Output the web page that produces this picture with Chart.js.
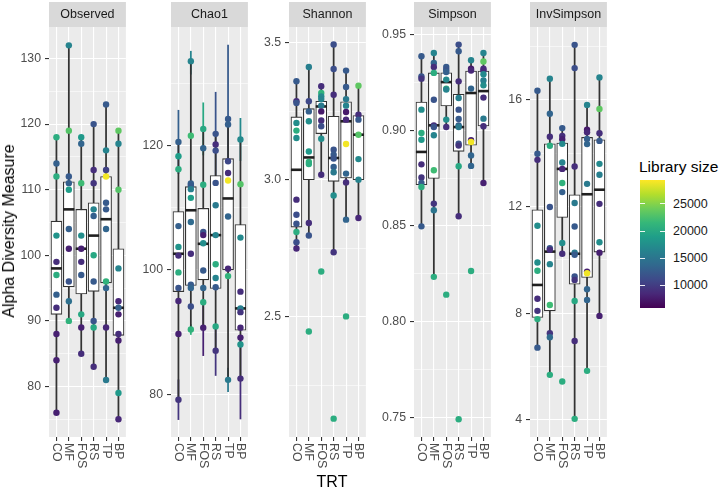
<!DOCTYPE html>
<html><head><meta charset="utf-8">
<script src="https://cdn.jsdelivr.net/npm/chart.js@4.4.1/dist/chart.umd.min.js"></script>
<style>
html,body{margin:0;padding:0;background:#fff;}
#wrap{position:relative;width:722px;height:489px;overflow:hidden;font-family:"Liberation Sans",Arial,Helvetica,sans-serif;}
#wrap canvas{position:absolute;top:0;}
.t{position:absolute;white-space:nowrap;line-height:1;}
</style></head><body><div id="wrap"></div>
<script>
// ---------------- data ----------------
const categories = ['CO','MF','FOS','RS','TP','BP'];
const measureNames = ['Observed','Chao1','Shannon','Simpson','InvSimpson'];
const libMin = 5900, libMax = 29400;
const legendTicks = [10000,15000,20000,25000];

// Observed
const observedValues = [
  [118,114,112,103,99,97,94,92,88,84,76],
  [132,119,112,111,110,104,101,96,93,90],
  [118,117,111,103,101,99,97,91,89,85],
  [120,113,111,107,106,100,96,90,89,83],
  [123,116,113,112,108,107,104,96,95,89,81],
  [119,117,110,98,93,92,91,88,87,79,75]
];
const observedLibrary = [
  [20500,13000,20500,18000,9000,20500,13000,9000,8000,8000,8000],
  [16500,23000,12500,13000,19000,13000,8000,12000,14500,21000],
  [18500,13500,22000,17500,8000,9000,12500,20000,8000,9000],
  [12000,9000,9500,16500,13000,20000,12500,12000,20000,9000],
  [12500,16500,10500,29000,12500,12500,13500,21000,13500,8500,15500],
  [23500,16500,23000,16500,8500,13000,8000,9000,8000,18500,8500]
];
// [lower whisker, Q1, median, Q3, upper whisker]
const observedBox = [
  [76,91,98,105.2,118],
  [90,95.2,107,111.2,132],
  [85,94.1,101,107,118],
  [83,94.5,103,108,120],
  [81,95.8,105.5,112,123],
  [75,87.8,92,101,119]
];
const observedTicks = [80,90,100,110,120,130];
const observedMinor = [75,85,95,105,115,125];
const observedRange = [72.3,134.8];

// Chao1
const chao1Values = [
  [120.6,118.3,116.2,107.05,103.7,102.3,99.6,97.1,95.0,89.7,79.1],
  [133.6,121.6,113.9,113.6,113.0,111.6,107.7,102.6,97.6,97.1,94.1,90.4],
  [122.7,119.6,113.7,106.1,105.6,104.3,99.9,97.1,94.8,90.7],
  [121.9,120.2,119.2,114.0,110.4,105.6,100.9,98.7,97.2,90.9,87.0],
  [124.3,123.4,117.5,115.6,114.4,108.6,100.2,99.0,82.3],
  [121.0,113.8,105.2,96.5,93.8,93.2,90.7,89.1,88.0,82.5]
];
const chao1Library = [
  [13000,19000,20500,13000,18000,9000,20500,12000,8500,8000,9500],
  [16500,22000,13000,12500,16000,19000,14000,9000,12500,13500,11500,21000],
  [20000,13500,20500,12000,8000,17500,12500,13500,20500,8000],
  [12000,9000,11500,12000,15500,16500,20500,16500,12500,20000,9500],
  [12500,13000,11000,9000,29000,13500,8500,21000,15500],
  [17000,23000,17000,9000,16000,9500,8500,8000,18000,9000]
];
const chao1Box = [
  [79.1,96.5,102.6,109.4,120.6],
  [90.4,97.5,109.6,113.4,133.6],
  [90.7,98.4,104.2,109.9,122.7],
  [87.0,97.0,105.6,115.2,121.9],
  [82.3,100.0,111.5,117.9,124.3],
  [82.5,90.3,93.8,107.3,121.0]
];
// standard-error bars: [group index, low, high, library size]
const chao1ErrorBars = [
  [0,115.5,125.7,13000],[0,75.9,82.3,9500],
  [1,131.5,135.2,16500],[1,89.6,91.2,21000],
  [2,118.5,126.9,20000],[2,86.2,95.2,8000],
  [3,115.2,128.6,12000],[3,83.0,91.0,9500],
  [4,112.4,136.2,12500],[4,80.4,84.2,15500],
  [5,117.6,124.4,17000],[5,76.0,89.0,9000]
];
const chao1Ticks = [80,100,120];
const chao1Minor = [90,110,130];
const chao1Range = [73.1,139.1];

// Shannon
const shannonValues = [
  [3.359,3.286,3.280,3.207,3.179,3.152,2.927,2.872,2.839,2.809,2.772,2.749],
  [3.411,3.286,3.249,3.213,3.103,3.065,3.057,2.842,2.796,2.446],
  [3.341,3.316,3.304,3.294,3.270,3.249,3.216,3.195,3.149,3.018,2.665],
  [3.493,3.404,3.310,3.109,3.091,3.077,3.046,3.027,2.942,2.735,2.128],
  [3.398,3.338,3.294,3.270,3.247,3.219,3.130,3.022,2.990,2.854,2.501],
  [3.343,3.237,3.219,3.164,3.075,3.000,2.860]
];
const shannonLibrary = [
  [12500,9000,12000,17500,20500,17500,9000,11500,12000,20500,11500,8500],
  [16000,11000,13000,17500,18500,21000,20500,9000,12000,20500],
  [9000,21000,17000,16500,15500,7500,9000,11500,17500,9000,20500],
  [11500,11500,9000,12000,12500,12000,13000,15500,17500,9500,20500],
  [12500,12500,15500,16500,7500,8500,29000,13500,9000,13500,20500],
  [23500,9000,12500,23000,17000,16500,8500]
];
const shannonBox = [
  [2.749,2.827,3.036,3.229,3.359],
  [2.796,3.000,3.081,3.259,3.411],
  [3.018,3.168,3.267,3.286,3.341],
  [2.735,2.994,3.079,3.231,3.493],
  [2.854,3.006,3.213,3.284,3.398],
  [2.860,3.000,3.164,3.234,3.343]
];
const shannonTicks = [2.5,3.0,3.5];
const shannonMinor = [2.25,2.75,3.25];
const shannonRange = [2.061,3.557];

// Simpson
const simpsonValues = [
  [0.9387,0.9282,0.9270,0.9108,0.8986,0.8951,0.8822,0.8753,0.8725,0.8704,0.8498],
  [0.9404,0.9352,0.9331,0.9300,0.9160,0.9026,0.9017,0.8974,0.8791,0.8617,0.8582,0.8234],
  [0.9331,0.9317,0.9305,0.9265,0.9218,0.9213,0.9056,0.9017,0.8141],
  [0.9448,0.9413,0.9256,0.9169,0.9108,0.9059,0.9026,0.9017,0.8930,0.8920,0.8812,0.8551,0.7490],
  [0.9366,0.9322,0.9313,0.9218,0.8948,0.8939,0.8869,0.8814,0.8265],
  [0.9404,0.9360,0.9322,0.9313,0.9293,0.9261,0.9235,0.9171,0.9061,0.9021,0.8725]
];
const simpsonLibrary = [
  [12500,12000,9500,17500,20500,18500,9000,9500,12500,20500,12500],
  [16500,13500,9000,20500,12000,9000,12000,16500,22000,9500,15000,20500],
  [12500,12000,13000,17000,21500,16500,17500,9000,20500],
  [11500,12500,9000,16000,12000,12500,13000,15500,12000,9500,20000,9000,20500],
  [16500,7500,8500,13500,8000,29000,13500,13500,20500],
  [16500,23500,9000,8500,17000,16000,17500,9000,15500,9000,8000]
];
const simpsonBox = [
  [0.8498,0.8716,0.8887,0.9148,0.9387],
  [0.8234,0.8748,0.9026,0.9300,0.9404],
  [0.9017,0.9127,0.9252,0.9301,0.9331],
  [0.8551,0.8890,0.9017,0.9188,0.9448],
  [0.8814,0.8922,0.9195,0.9310,0.9366],
  [0.8725,0.9023,0.9205,0.9310,0.9404]
];
const simpsonTicks = [0.75,0.80,0.85,0.90,0.95];
const simpsonMinor = [0.775,0.825,0.875,0.925];
const simpsonRange = [0.7397,0.954];

// InvSimpson
const invSimpsonValues = [
  [16.34,13.98,13.75,11.28,9.90,9.59,8.54,8.09,7.78,6.71],
  [16.79,15.48,14.62,14.28,11.98,10.44,10.38,9.84,8.31,7.25,7.10,5.69],
  [14.94,14.65,14.52,14.35,13.65,13.41,12.88,12.54,10.63,10.23,5.44],
  [18.06,17.19,13.50,12.13,11.25,10.27,10.19,9.38,9.25,8.46,6.96,4.04],
  [15.81,14.88,14.78,14.53,14.34,12.85,9.56,9.50,8.90,8.50,5.84],
  [16.84,15.66,14.75,14.46,13.60,13.19,12.10,10.66,10.27,7.90]
];
const invSimpsonLibrary = [
  [12500,12500,9000,17500,17500,20500,9000,9500,20500,12500],
  [16500,13500,9000,20500,12000,12500,9000,16500,22000,9500,14000,20500],
  [12500,9000,8000,17000,16500,8500,21000,13000,17500,9000,20500],
  [12000,11500,9000,15500,12500,15500,12500,12000,9500,20000,9000,20500],
  [16500,7500,8500,13000,13500,15500,8000,29000,13500,13500,20500],
  [16500,23500,9000,12500,17000,16000,9000,17500,8000,8000]
];
const invSimpsonBox = [
  [6.71,7.84,9.06,11.88,16.34],
  [5.69,8.09,10.31,14.35,16.79],
  [10.23,11.59,13.41,14.38,14.94],
  [4.04,9.09,10.23,12.44,18.06],
  [5.84,9.34,12.46,14.59,15.81],
  [7.90,10.29,12.63,14.50,16.84]
];
const invSimpsonTicks = [4,8,12,16];
const invSimpsonMinor = [6,10,14,18];
const invSimpsonRange = [3.36,18.73];

// ---------------- layout / style ----------------
const H = 489, PANEL_TOP = 27, PANEL_BOTTOM = 437, STRIP_TOP = 2, AXIS_W = 46, PANEL_W = 85;
const panelLefts = [49,171,289,414,530];
const FONT = '"Liberation Sans", Arial, Helvetica, sans-serif';

const VIRIDIS = ['#440154','#482878','#3E4A89','#31688E','#26828E','#1F9E89','#35B779','#6DCD59','#B4DE2C','#FDE725'];
function hexToRgb(h){ return [parseInt(h.slice(1,3),16),parseInt(h.slice(3,5),16),parseInt(h.slice(5,7),16)]; }
function viridis(t){
  t = Math.max(0, Math.min(1, t));
  const p = t*(VIRIDIS.length-1);
  const i = Math.min(Math.floor(p), VIRIDIS.length-2);
  const f = p - i;
  const a = hexToRgb(VIRIDIS[i]), b = hexToRgb(VIRIDIS[i+1]);
  return 'rgb(' + a.map((v,k)=>Math.round(v+(b[k]-v)*f)).join(',') + ')';
}
const libColor = v => viridis((v - libMin)/(libMax - libMin));

const panels = [
  {name:measureNames[0], values:observedValues, libs:observedLibrary, box:observedBox, ticks:observedTicks, minor:observedMinor, range:observedRange, dec:0},
  {name:measureNames[1], values:chao1Values, libs:chao1Library, box:chao1Box, ticks:chao1Ticks, minor:chao1Minor, range:chao1Range, dec:0, err:chao1ErrorBars},
  {name:measureNames[2], values:shannonValues, libs:shannonLibrary, box:shannonBox, ticks:shannonTicks, minor:shannonMinor, range:shannonRange, dec:1},
  {name:measureNames[3], values:simpsonValues, libs:simpsonLibrary, box:simpsonBox, ticks:simpsonTicks, minor:simpsonMinor, range:simpsonRange, dec:2},
  {name:measureNames[4], values:invSimpsonValues, libs:invSimpsonLibrary, box:invSimpsonBox, ticks:invSimpsonTicks, minor:invSimpsonMinor, range:invSimpsonRange, dec:0}
];

const panelDecor = {
  id: 'panelDecor',
  beforeDraw(chart, args, opts) {
    const {ctx, chartArea: a} = chart;
    ctx.save();
    ctx.fillStyle = '#EBEBEB';
    ctx.fillRect(a.left, a.top, a.right - a.left, a.bottom - a.top);
    ctx.fillStyle = '#D9D9D9';
    ctx.fillRect(a.left, STRIP_TOP, a.right - a.left, a.top - STRIP_TOP);
    ctx.fillStyle = '#1A1A1A';
    ctx.font = '12.5px ' + FONT;
    ctx.textAlign = 'center';
    ctx.textBaseline = 'middle';
    ctx.fillText(opts.title, (a.left + a.right)/2, (STRIP_TOP + a.top)/2 + 0.5);
    ctx.restore();
  },
  afterDraw(chart) {
    const {ctx, chartArea: a} = chart;
    const xs = chart.scales.x;
    ctx.save();
    ctx.fillStyle = '#4D4D4D';
    ctx.font = '12.3px ' + FONT;
    ctx.textAlign = 'left';
    ctx.textBaseline = 'middle';
    categories.forEach((c, i) => {
      const x = xs.getPixelForValue(i + 1);
      ctx.save();
      ctx.translate(x, a.bottom + 6);
      ctx.rotate(Math.PI/2);
      ctx.fillText(c, 0, 0);
      ctx.restore();
    });
    ctx.restore();
  }
};

const wrap = document.getElementById('wrap');

panels.forEach((p, pi) => {
  const left = panelLefts[pi];
  const cv = document.createElement('canvas');
  cv.width = AXIS_W + PANEL_W; cv.height = H;
  cv.style.left = (left - AXIS_W) + 'px';
  wrap.appendChild(cv);

  const pts = [], cols = [];
  p.values.forEach((arr, gi) => arr.forEach((v, k) => {
    pts.push({x: gi + 1, y: v});
    cols.push(libColor(p.libs[gi][k]));
  }));
  const majorSet = new Set(p.ticks);
  const allTicks = [...p.ticks, ...p.minor].sort((a, b) => a - b);

  const datasets = [
    {type:'scatter', data:pts, pointBackgroundColor:cols, pointBorderWidth:0, pointRadius:3.2, pointHoverRadius:3.2, order:0},
    {type:'scatter', data:p.box.map((b, gi) => ({x: gi + 1, y: b[2]})), pointStyle:'line', pointRadius:5.5, pointHoverRadius:5.5,
      pointBorderColor:'#1F1F1F', pointBackgroundColor:'#1F1F1F', pointBorderWidth:2.6, order:1},
    {type:'bar', data:p.box.map((b, gi) => ({x: gi + 1, y: [b[1], b[3]]})), backgroundColor:'#FFFFFF', borderColor:'#333333',
      borderWidth:1.1, borderSkipped:false, barThickness:11, grouped:false, order:2},
    {type:'bar', data:p.box.map((b, gi) => ({x: gi + 1, y: [b[0], b[4]]})), backgroundColor:'#333333', borderWidth:0,
      barThickness:1.1, grouped:false, order:3}
  ];
  if (p.err) {
    datasets.push({type:'bar', data:p.err.map(e => ({x: e[0] + 1, y: [e[1], e[2]]})), backgroundColor:p.err.map(e => libColor(e[3])),
      borderWidth:0, barThickness:1.1, grouped:false, order:4});
  }

  new Chart(cv, {
    type: 'scatter',
    data: {datasets},
    plugins: [panelDecor],
    options: {
      responsive: false, animation: false, devicePixelRatio: 1, events: [],
      layout: {padding: {top: PANEL_TOP, left: 0, right: 0, bottom: 0}},
      plugins: {legend: {display: false}, tooltip: {enabled: false}, panelDecor: {title: p.name}},
      scales: {
        x: {
          type: 'linear', min: 0.4, max: 6.6, offset: false,
          afterBuildTicks: s => { s.ticks = categories.map((c, i) => ({value: i + 1})); },
          afterFit: s => { s.height = H - PANEL_BOTTOM; },
          ticks: {display: false},
          grid: {color: '#FFFFFF', lineWidth: 1.1, tickColor: '#333333', tickLength: 4, offset: false, drawTicks: true},
          border: {display: false}
        },
        y: {
          type: 'linear', min: p.range[0], max: p.range[1],
          afterBuildTicks: s => { s.ticks = allTicks.map(v => ({value: v})); },
          afterFit: s => { s.width = AXIS_W; },
          ticks: {autoSkip: false, padding: 4, color: '#4D4D4D', font: {family: FONT, size: 12.3},
            callback: v => majorSet.has(v) ? v.toFixed(p.dec) : ''},
          grid: {
            color: '#FFFFFF',
            lineWidth: c => (c.tick && majorSet.has(c.tick.value)) ? 1.1 : 0.55,
            tickColor: c => (c.tick && majorSet.has(c.tick.value)) ? '#333333' : 'rgba(0,0,0,0)',
            tickWidth: 1.1,
            tickLength: 4, drawTicks: true
          },
          border: {display: false}
        }
      }
    }
  });
});

// ---------------- titles ----------------
function addText(txt, css) {
  const d = document.createElement('div');
  d.className = 't';
  d.textContent = txt;
  Object.assign(d.style, css);
  wrap.appendChild(d);
  return d;
}
addText('Alpha Diversity Measure', {left:'9px', top:'231px', fontSize:'16px', color:'#000', transform:'translate(-50%,-50%) rotate(-90deg)'});
addText('TRT', {left:'332px', top:'482px', fontSize:'16px', color:'#000', transform:'translate(-50%,-50%)'});

// ---------------- legend (colour bar) ----------------
const barLeft = 639.5, barTop = 180, barW = 25.5, barH = 127.7;
addText('Library size', {left:'639px', top:'166.5px', fontSize:'15.5px', color:'#000', transform:'translateY(-50%)'});
const bar = document.createElement('div');
const stops = VIRIDIS.map((c, i) => c + ' ' + (i/(VIRIDIS.length-1)*100).toFixed(2) + '%').join(',');
Object.assign(bar.style, {position:'absolute', left:barLeft+'px', top:barTop+'px', width:barW+'px', height:barH+'px',
  background:'linear-gradient(to top,' + stops + ')'});
wrap.appendChild(bar);
legendTicks.forEach(v => {
  const y = barTop + barH - (v - libMin)/(libMax - libMin)*barH;
  [[barLeft, 5], [barLeft + barW - 5, 5]].forEach(([x, w]) => {
    const m = document.createElement('div');
    Object.assign(m.style, {position:'absolute', left:x+'px', top:(y-0.5)+'px', width:w+'px', height:'1px', background:'rgba(255,255,255,0.9)'});
    wrap.appendChild(m);
  });
  addText(String(v), {left:'673px', top:y+'px', fontSize:'12.5px', color:'#1A1A1A', transform:'translateY(-50%)'});
});
</script></body></html>
